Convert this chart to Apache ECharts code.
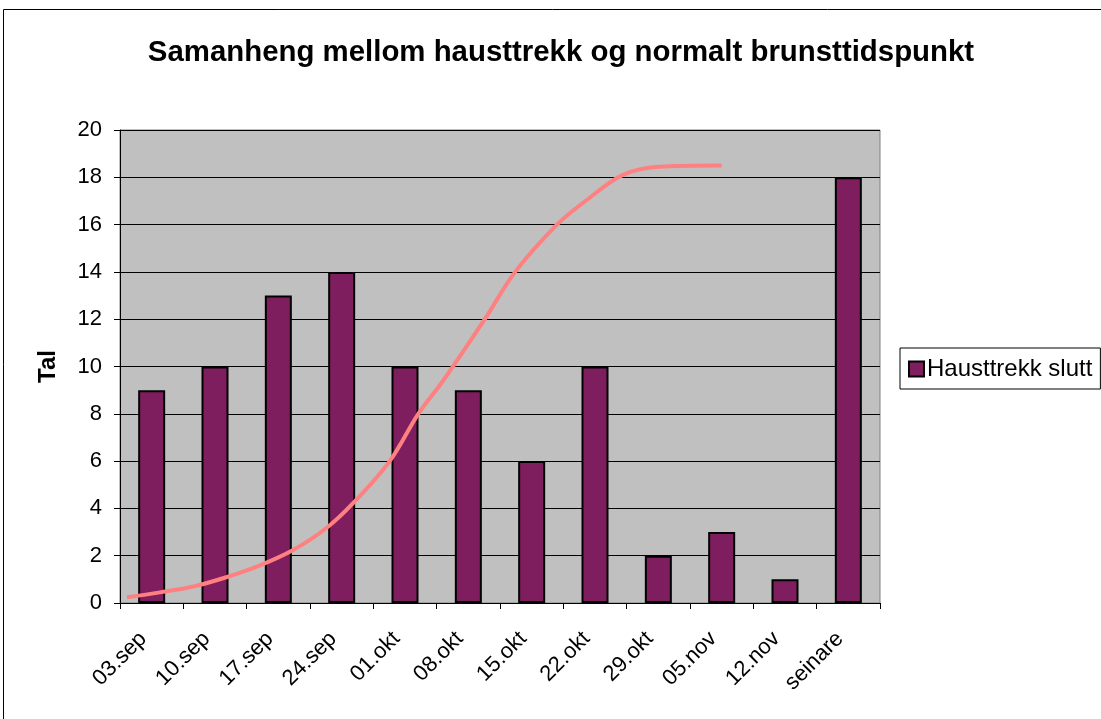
<!DOCTYPE html>
<html>
<head>
<meta charset="utf-8">
<script src="https://cdn.jsdelivr.net/npm/echarts@6/dist/echarts.min.js"></script>
<style>
html,body{margin:0;padding:0;background:#fff;}
#c{width:1101px;height:719px;}
</style>
</head>
<body>
<div id="c"></div>
<script>
const titleText = 'Samanheng mellom hausttrekk og normalt brunsttidspunkt';
const seriesName = 'Hausttrekk slutt';
const yName = 'Tal';
const categories = ['03.sep','10.sep','17.sep','24.sep','01.okt','08.okt','15.okt','22.okt','29.okt','05.nov','12.nov','seinare'];
const barValues = [9, 10, 13, 14, 10, 9, 6, 10, 2, 3, 1, 18];
// curve positions in category-index units (0 = first category centre)
const curveX = [-0.39, 0.13, 0.66, 1.19, 1.71, 2.24, 2.76, 3.18, 3.76, 4.21, 4.61, 5.26, 5.74, 6.40, 6.87, 7.44, 8.0, 9.0];
const curveY = [0.24, 0.45, 0.70, 1.10, 1.59, 2.25, 3.17, 4.22, 6.0, 8.0, 9.43, 12.0, 14.0, 16.0, 17.04, 18.1, 18.45, 18.5];
const yMin = 0, yMax = 20, yStep = 2;

const FONT = "'Liberation Sans', Arial, sans-serif";
const chart = echarts.init(document.getElementById('c'), null, {renderer: 'canvas'});
const option = {
  animation: false,
  backgroundColor: '#ffffff',
  textStyle: {fontFamily: FONT},
  title: {
    text: titleText,
    left: 556, top: 33, textAlign: 'center',
    textStyle: {fontFamily: FONT, fontSize: 29.4, fontWeight: 'bold', color: '#000'}
  },
  graphic: [{
    type: 'rect', silent: true, z: -1,
    shape: {x: 3.5, y: 9.5, width: 1200, height: 800},
    style: {fill: 'none', stroke: '#000', lineWidth: 1}
  }],
  legend: {
    data: [seriesName],
    left: 900, top: 348,
    orient: 'vertical',
    padding: [9, 8, 8, 8],
    itemWidth: 15, itemHeight: 15, itemGap: 0,
    icon: 'rect',
    borderColor: '#000', borderWidth: 1,
    textStyle: {fontFamily: FONT, fontSize: 24, color: '#000', padding: [0,0,0,-2]}
  },
  grid: {
    left: 120, right: 221, top: 130, bottom: 116,
    show: true, backgroundColor: '#c0c0c0', borderColor: '#808080', borderWidth: 1,
    containLabel: false
  },
  xAxis: [{
    type: 'category', data: categories,
    axisLine: {onZero: false, lineStyle: {color: '#000', width: 1}},
    axisTick: {show: true, length: 6, lineStyle: {color: '#000'}},
    axisLabel: {rotate: 45, fontSize: 22, color: '#000', fontFamily: FONT, margin: 24, interval: 0, padding: [0, 12, 0, 0]}
  }, {
    type: 'value', min: -0.5, max: 11.5, show: false
  }],
  yAxis: {
    type: 'value', min: yMin, max: yMax, interval: yStep,
    name: yName, nameLocation: 'middle', nameGap: 60,
    nameTextStyle: {fontFamily: FONT, fontSize: 24, fontWeight: 'bold', color: '#000'},
    axisLine: {show: true, onZero: false, lineStyle: {color: '#000', width: 1}},
    axisTick: {show: true, length: 6, lineStyle: {color: '#000'}},
    axisLabel: {fontSize: 22, color: '#000', fontFamily: FONT, margin: 18},
    splitLine: {show: true, lineStyle: {color: '#000', width: 1}}
  },
  series: [{
    name: seriesName, type: 'bar', data: barValues,
    barWidth: 27,
    itemStyle: {color: '#7e1e5e', borderColor: '#000', borderWidth: 2}
  }, {
    name: 'kurve', type: 'line', xAxisIndex: 1,
    data: curveX.map((x, i) => [x, curveY[i]]),
    smooth: 0.35, showSymbol: false, symbol: 'none',
    lineStyle: {color: '#ff8080', width: 4}, z: 5
  }]
};
chart.setOption(option);
</script>
</body>
</html>
